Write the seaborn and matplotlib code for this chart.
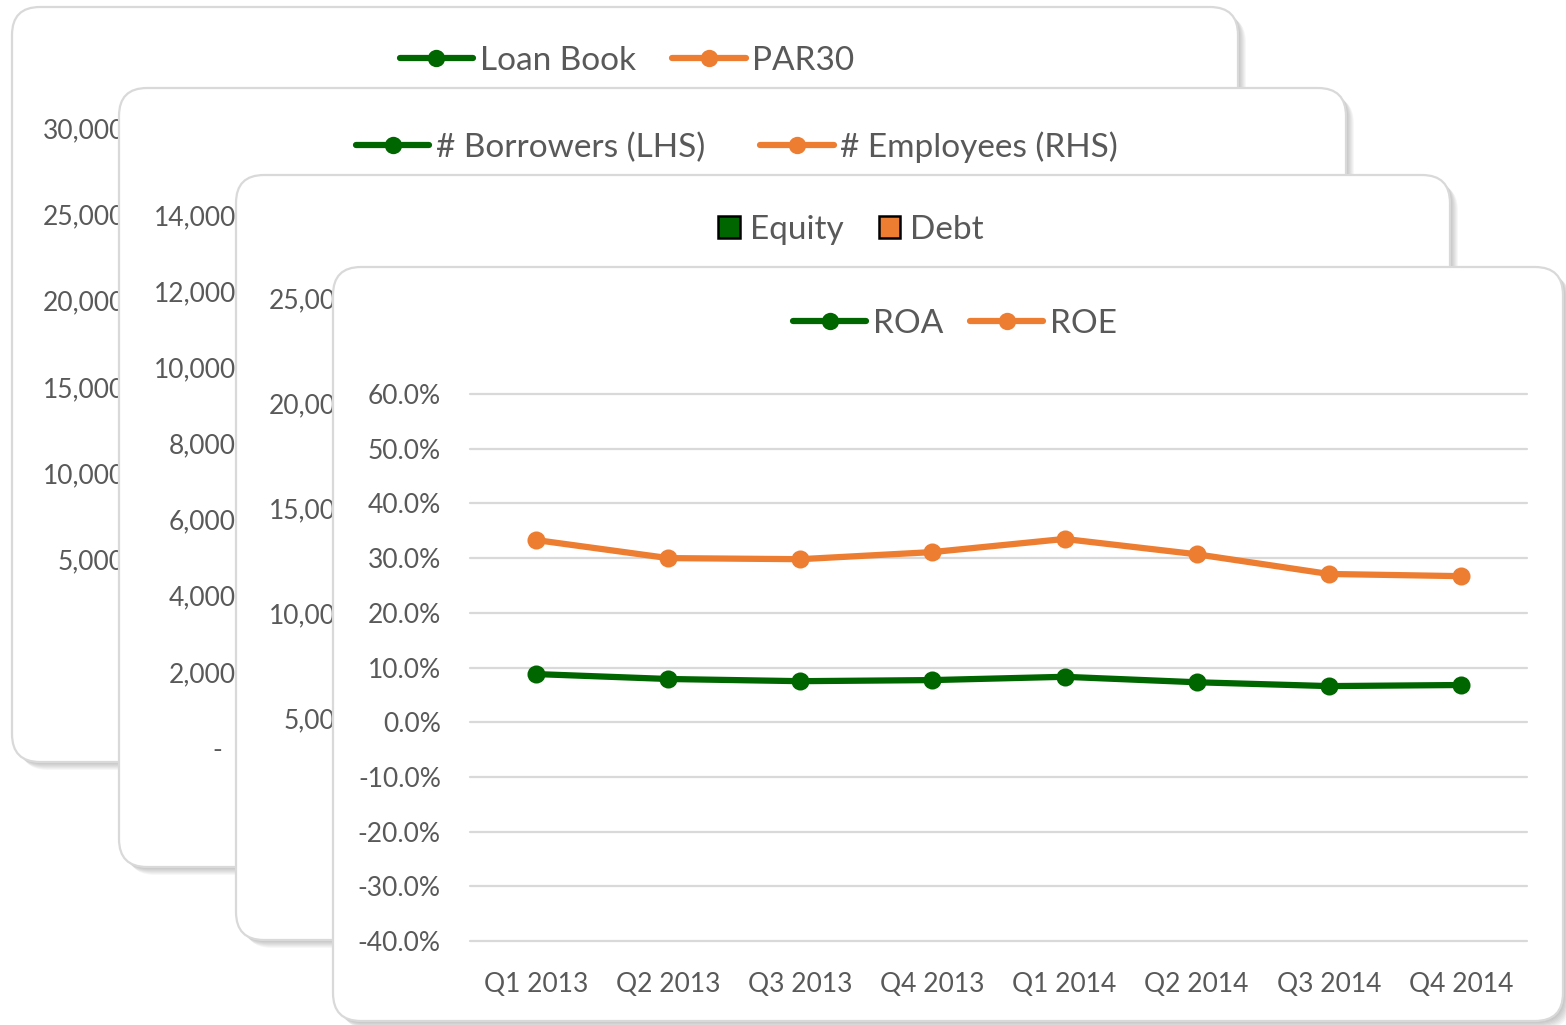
import numpy as np
import pandas as pd
import matplotlib; matplotlib.use("Agg")
import matplotlib.pyplot as plt
import seaborn as sns
from matplotlib.patches import FancyBboxPatch, Patch
from matplotlib.lines import Line2D
from matplotlib.ticker import FuncFormatter

W, H = 1566, 1025
GREEN = "#006600"
ORANGE = "#ED7D31"
GREY_TXT = "#595959"
GRID = "#d9d9d9"

# front card data (ROA / ROE by quarter)
quarters = ["Q1 2013", "Q2 2013", "Q3 2013", "Q4 2013",
            "Q1 2014", "Q2 2014", "Q3 2014", "Q4 2014"]
roa = [0.088, 0.079, 0.075, 0.077, 0.083, 0.073, 0.066, 0.068]
roe = [0.333, 0.300, 0.298, 0.311, 0.335, 0.307, 0.271, 0.267]
pct_ticks = [-0.4, -0.3, -0.2, -0.1, 0.0, 0.1, 0.2, 0.3, 0.4, 0.5, 0.6]

# back cards: only their axis ticks and legends are visible
loanbook_ticks = [5000, 10000, 15000, 20000, 25000, 30000]
loanbook_series = ["Loan Book", "PAR30"]
borrowers_ticks = [0, 2000, 4000, 6000, 8000, 10000, 12000, 14000]
borrowers_series = ["# Borrowers (LHS)", "# Employees (RHS)"]
funding_ticks = [5000, 10000, 15000, 20000, 25000]
funding_series = ["Equity", "Debt"]
ratio_series = ["ROA", "ROE"]

# card boxes in pixels: left, top, right, bottom
cards = [(12, 7, 1238, 762), (119, 88, 1346, 867),
         (236, 175, 1450, 940), (333, 267, 1563, 1021)]

sns.set_theme(style="white")
plt.rcParams["font.family"] = ["Lato", "DejaVu Sans"]

fig = plt.figure(figsize=(W / 100, H / 100), dpi=100)
fig.patch.set_facecolor("white")


def rect(l, t, r, b):
    return [l / W, 1 - b / H, (r - l) / W, (b - t) / H]


def draw_card(i):
    l, t, r, b = cards[i]
    bg = fig.add_axes([0, 0, 1, 1], zorder=2 * i)
    bg.set_xlim(0, W); bg.set_ylim(H, 0); bg.axis("off")
    bg.patch.set_alpha(0)
    style = "round,pad=0,rounding_size=28"
    for k in range(1, 9):
        bg.add_patch(FancyBboxPatch((l + k, t + k), r - l, b - t, boxstyle=style,
                                    fc="black", ec="none", alpha=0.03))
    bg.add_patch(FancyBboxPatch((l, t), r - l, b - t, boxstyle=style,
                                fc="white", ec=GRID, lw=1.6))


def line_handles(names):
    return [Line2D([], [], color=c, lw=4.5, marker="o", ms=12.5, mew=0, label=n)
            for n, c in zip(names, [GREEN, ORANGE])]


def put_legend(ax, handles, cx, cy, **kw):
    ax.legend(handles=handles, loc="center", bbox_to_anchor=(cx / W, 1 - cy / H),
              bbox_transform=fig.transFigure, ncol=2, frameon=False, fontsize=24,
              labelcolor=GREY_TXT, borderpad=0, **kw)


def thousands(v, pos):
    return "-  " if v == 0 else f"{v:,.0f}"


def back_axes(i, ticks, y_top, y_zero, label_right):
    ax = fig.add_axes(rect(label_right + 9, y_top, cards[i][2] - 30, y_zero), zorder=2 * i + 1)
    ax.patch.set_alpha(0)
    ax.set_ylim(0, max(ticks))
    ax.set_yticks(ticks)
    ax.yaxis.set_major_formatter(FuncFormatter(thousands))
    ax.set_xticks([])
    ax.tick_params(axis="y", length=0, pad=6.5, labelsize=19, labelcolor=GREY_TXT)
    for s in ax.spines.values():
        s.set_visible(False)
    return ax


# card 1: loan book
draw_card(0)
ax1 = back_axes(0, loanbook_ticks, 128, 646, 125)
put_legend(ax1, line_handles(loanbook_series), 627, 61,
           handlelength=2.2, handletextpad=0.2, columnspacing=1.1)

# card 2: borrowers / employees
draw_card(1)
ax2 = back_axes(1, borrowers_ticks, 215, 748, 236)
put_legend(ax2, line_handles(borrowers_series), 737, 147,
           handlelength=2.2, handletextpad=0.2, columnspacing=1.65)

# card 3: equity / debt
draw_card(2)
ax3 = back_axes(2, funding_ticks, 298, 823, 351)
box_handles = [Patch(fc=c, ec="black", lw=1.8, label=n)
               for n, c in zip(funding_series, [GREEN, ORANGE])]
put_legend(ax3, box_handles, 851, 230,
           handlelength=0.65, handleheight=0.65, handletextpad=0.3, columnspacing=1.05)

# card 4: ROA / ROE
draw_card(3)
ax4 = fig.add_axes(rect(470, 394, 1527, 941), zorder=7)
ax4.patch.set_alpha(0)
df = pd.DataFrame({
    "quarter": quarters * 2,
    "metric": ["ROA"] * len(quarters) + ["ROE"] * len(quarters),
    "value": roa + roe,
})
sns.lineplot(data=df, x="quarter", y="value", hue="metric",
             palette={"ROA": GREEN, "ROE": ORANGE}, marker="o", markersize=13,
             markeredgewidth=0, lw=4.5, sort=False, legend=False, ax=ax4)
ax4.set_xlim(-0.5, len(quarters) - 0.5)
ax4.set_ylim(min(pct_ticks), max(pct_ticks))
ax4.set_yticks(pct_ticks)
ax4.yaxis.set_major_formatter(FuncFormatter(lambda v, p: f"{v * 100:.1f}%"))
ax4.set_xlabel(""); ax4.set_ylabel("")
ax4.tick_params(axis="y", length=0, pad=21, labelsize=19, labelcolor=GREY_TXT)
ax4.tick_params(axis="x", length=0, pad=22, labelsize=19, labelcolor=GREY_TXT)
ax4.set_axisbelow(True)
ax4.grid(axis="y", color=GRID, lw=1.6)
for gl in ax4.get_ygridlines():
    gl.set_clip_on(False)
for s in ax4.spines.values():
    s.set_visible(False)
put_legend(ax4, line_handles(ratio_series), 955, 324,
           handlelength=2.2, handletextpad=0.2, columnspacing=0.8)

fig.savefig("out.png", dpi=100, facecolor="white")
